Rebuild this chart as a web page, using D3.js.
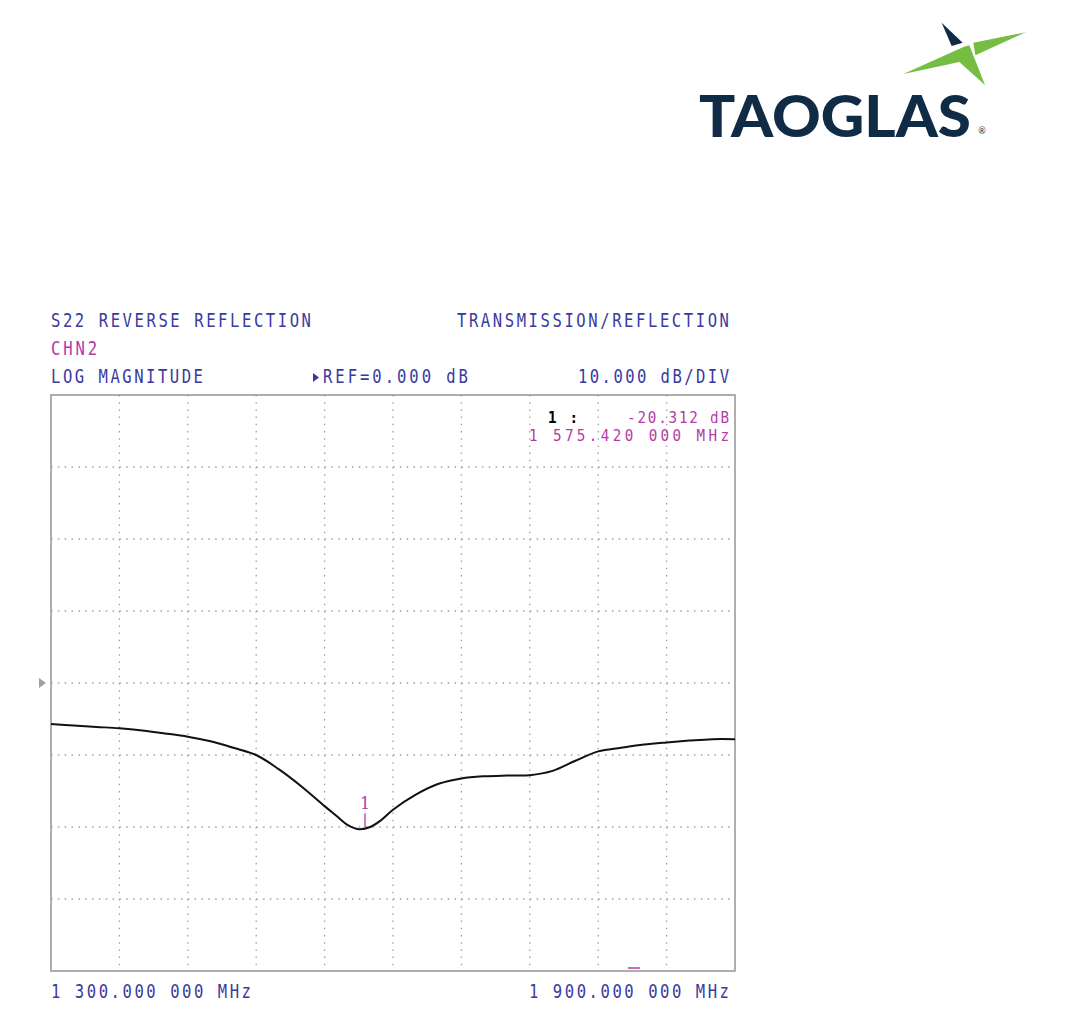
<!DOCTYPE html>
<html><head><meta charset="utf-8">
<script src="https://cdn.jsdelivr.net/npm/d3@7"></script>
<style>html,body{margin:0;padding:0;background:#fff;}svg{display:block;}</style>
</head><body>
<svg id="chart" width="1066" height="1021"></svg>
<script>
// ---- data ----
const freqMHz = [1300,1320,1340,1360,1380,1400,1420,1440,1460,1480,1500,1520,1540,1550,1560,1570,1580,1590,1600,1620,1640,1660,1680,1700,1720,1740,1760,1780,1800,1820,1840,1860,1880,1900];
const s22dB   = [-5.7,-5.9,-6.1,-6.3,-6.6,-7.0,-7.45,-8.1,-9.0,-10.0,-12.0,-14.4,-17.1,-18.4,-19.7,-20.3,-20.0,-19.0,-17.6,-15.5,-14.0,-13.25,-12.95,-12.85,-12.8,-12.2,-10.8,-9.5,-9.0,-8.55,-8.25,-8.0,-7.8,-7.8];
const freqRange = [1300,1900];
const dbRange = [-40,40];
const xTicks = [1300,1360,1420,1480,1540,1600,1660,1720,1780,1840,1900];
const yTicks = [-40,-30,-20,-10,0,10,20,30,40];
const refDb = 0;
const markerFreq = 1575.42, markerDb = -20.312;
const headerLeft = ["S22 REVERSE REFLECTION","CHN2","LOG MAGNITUDE"];
const headerRight = ["TRANSMISSION/REFLECTION","REF=0.000 dB","10.000 dB/DIV"];
const markerText = ["1 :","-20.312 dB","1 575.420 000 MHz"];
const footer = ["1 300.000 000 MHz","1 900.000 000 MHz"];

const svg = d3.select("#chart");
const L = 51, R = 735, T = 395, B = 971;
const x = d3.scaleLinear().domain(freqRange).range([L,R]);
const y = d3.scaleLinear().domain(dbRange).range([B,T]);

const mono = "'DejaVu Sans Mono', 'Liberation Mono', monospace";
const blue = "#3a3a9e", mag = "#b43aa6";

// ---- logo ----
const logo = svg.append("g");
const lp = pts => pts.map(p => [p[0]/3+640, p[1]/3]);
logo.append("polygon").attr("points", lp([[790,222],[972,140],[988,136],[1035,255],[958,186]]).join(" ")).attr("fill","#76bd43");
logo.append("polygon").attr("points", lp([[1000,128],[1157,97],[1006,166]]).join(" ")).attr("fill","#76bd43");
logo.append("polygon").attr("points", lp([[905,68],[935,138],[968,128]]).join(" ")).attr("fill","#0f2b45");
logo.append("text").attr("x",699).attr("y",137).attr("textLength",272).attr("lengthAdjust","spacingAndGlyphs")
  .attr("font-family","Lato, 'Open Sans', sans-serif").attr("font-weight",900).attr("font-size",58).attr("fill","#0f2b45").text("TAOGLAS");
logo.append("text").attr("x",982).attr("y",134).attr("text-anchor","middle").attr("font-family","Lato, sans-serif").attr("font-size",9).attr("fill","#0f2b45").text("®");

// ---- grid ----
const grid = svg.append("g");
grid.selectAll("line.v").data(xTicks.slice(1,-1)).join("line")
  .attr("x1",d=>x(d)).attr("x2",d=>x(d)).attr("y1",T).attr("y2",B)
  .attr("stroke","#a0a0a0").attr("stroke-width",1.3).attr("stroke-dasharray","1.5 5.7");
grid.selectAll("line.h").data(yTicks.slice(1,-1)).join("line")
  .attr("x1",L).attr("x2",R).attr("y1",d=>y(d)).attr("y2",d=>y(d))
  .attr("stroke","#a0a0a0").attr("stroke-width",1.3).attr("stroke-dasharray","1.5 5.34");

// frame
svg.append("rect").attr("x",L).attr("y",T).attr("width",R-L).attr("height",B-T)
  .attr("fill","none").attr("stroke","#9a9a9a").attr("stroke-width",1.6);

// reference arrow
const ry = y(refDb);
svg.append("path").attr("d",`M39,${ry-5} L46,${ry} L39,${ry+5} Z`).attr("fill","#a0a0a0");

// ---- trace ----
const line = d3.line().x((d,i)=>x(freqMHz[i])).y(d=>y(d)).curve(d3.curveCatmullRom.alpha(0.5));
svg.append("path").datum(s22dB).attr("d",line).attr("fill","none").attr("stroke","#111").attr("stroke-width",2);

// marker
const mx = x(markerFreq), my = y(markerDb);
svg.append("line").attr("x1",mx).attr("x2",mx).attr("y1",my-16).attr("y2",my-2).attr("stroke",mag).attr("stroke-width",1.3);
svg.append("text").attr("x",mx).attr("y",my-20).attr("text-anchor","middle").attr("font-family","'DejaVu Serif', serif").attr("font-size",16).attr("fill",mag).text("1");
// small marker dash at bottom
svg.append("line").attr("x1",628).attr("x2",640).attr("y1",B-3).attr("y2",B-3).attr("stroke",mag).attr("stroke-width",1.5);

// ---- text (condensed monospace, analyzer style) ----
function t(str, x0, x1, yb, color, size, weight, sx){
  sx = sx || 0.82;
  return svg.append("text").attr("transform",`translate(${x0},${yb}) scale(${sx},1)`)
    .attr("x",0).attr("y",0).attr("textLength",(x1-x0-2)/sx).attr("lengthAdjust","spacing")
    .attr("font-family",mono).attr("font-size",size||19).attr("font-weight",weight||"normal").attr("fill",color).text(str);
}
t(headerLeft[0], 51, 313, 327, blue);
t(headerLeft[1], 51, 99, 355, mag);
t(headerLeft[2], 51, 205, 383, blue);
t(headerRight[0], 457, 731, 327, blue);
svg.append("path").attr("d","M313,373 L319,377.5 L313,382 Z").attr("fill",blue);
t(headerRight[1], 323, 470, 383, blue);
t(headerRight[2], 578, 731, 383, blue);
t(markerText[0], 548, 580, 423, "#000", 15, "bold", 0.95);
t(markerText[1], 627, 731, 423, mag, 15, "normal", 0.95);
t(markerText[2], 529, 731, 441, mag, 15, "normal", 0.95);
t(footer[0], 51, 253, 998, blue);
t(footer[1], 529, 731, 998, blue);
</script>
</body></html>
